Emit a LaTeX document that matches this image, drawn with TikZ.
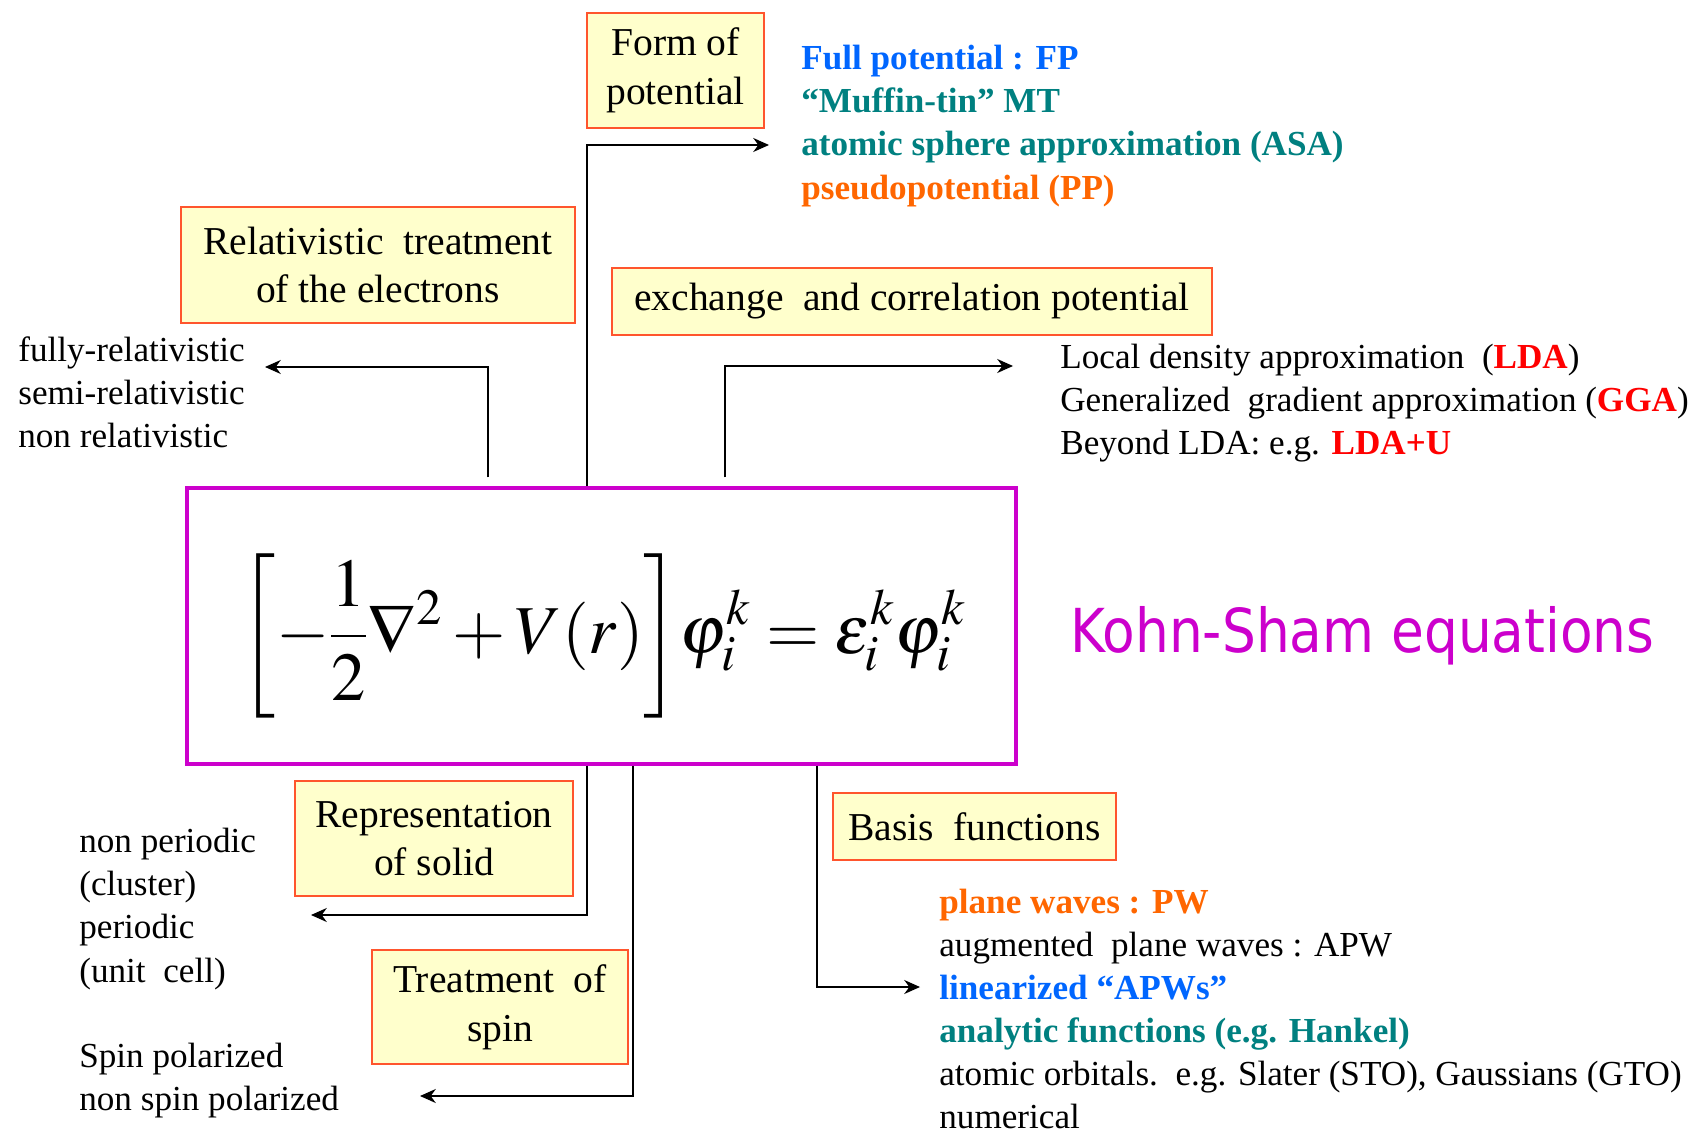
\documentclass[tikz,border=0pt]{standalone}
\usepackage{mathptmx}
\usepackage{fontspec}
\setmainfont{Liberation Serif}
\newfontfamily\ksfont[FakeStretch=0.88]{DejaVu Sans}
\usetikzlibrary{arrows.meta}
\definecolor{fpblue}{RGB}{0,102,255}
\definecolor{mtteal}{RGB}{0,128,128}
\definecolor{pporange}{RGB}{255,102,0}
\definecolor{ldared}{RGB}{255,0,0}
\definecolor{ksmagenta}{RGB}{204,0,204}
\definecolor{boxfill}{RGB}{255,255,204}
\definecolor{boxedge}{RGB}{255,85,45}
\tikzset{
  topic/.style={rectangle, fill=boxfill, draw=boxedge, line width=1.1pt, align=center, inner sep=0pt, font=\fontsize{22.5}{27.7}\selectfont},
  choices/.style={anchor=west, align=left, inner sep=0pt, font=\fontsize{20}{24.5}\selectfont},
  feed/.style={-{Stealth[length=9pt,width=8pt]}, line width=0.8pt}
}

\begin{document}
\begin{tikzpicture}[x=0.02cm, y=-0.02cm]
      \useasboundingbox (0,0) rectangle (1696,1131);

      % central equation
      \node[draw=ksmagenta, line width=2pt, minimum width=16.58cm, minimum height=5.52cm] (ks) at (601.5,626) {};
      \node (eq) at (603,636) {\fontsize{39}{44}\selectfont
        $\displaystyle\left[-\frac{1}{2}\nabla^{2}+V(r)\right]\!\varphi_i^{k}=\varepsilon_i^{k}\varphi_i^{k}$};
      \node[anchor=west, text=ksmagenta, font=\ksfont\fontsize{34.5}{40}\selectfont] (kstitle) at (1064,636) {Kohn-Sham equations};

      % topic boxes
      \node[topic, minimum width=3.54cm, minimum height=2.3cm] (form) at (675.5,70.5) {Form of\\potential};
      \node[topic, minimum width=7.88cm, minimum height=2.32cm] (rel) at (378,265) {Relativistic\ \ treatment\\of the electrons};
      \node[topic, minimum width=12cm, minimum height=1.34cm] (xc) at (912,301.5) {exchange\ \ and correlation potential};
      \node[topic, minimum width=5.56cm, minimum height=2.3cm] (rep) at (434,838.5) {Representation\\of solid};
      \node[topic, minimum width=5.66cm, minimum height=1.34cm] (basis) at (974.5,826.5) {Basis\ \ functions};
      \node[topic, minimum width=5.12cm, minimum height=2.28cm] (spin) at (500,1007) {Treatment\ \ of\\spin};

      % lists of choices
      \node[choices] (formlist) at (801,126) {%
        {\bfseries\color{fpblue}Full potential : FP}\\
        {\bfseries\color{mtteal}“Muffin-tin” MT}\\
        {\bfseries\color{mtteal}atomic sphere approximation (ASA)}\\
        {\bfseries\color{pporange}pseudopotential (PP)}};
      \node[choices] (rellist) at (18,392) {fully-relativistic\\semi-relativistic\\non relativistic};
      \node[choices] (xclist) at (1060,403) {%
        Local density approximation\ \ ({\bfseries\color{ldared}LDA})\\
        Generalized\ \ gradient approximation ({\bfseries\color{ldared}GGA})\\
        Beyond LDA: e.g. {\bfseries\color{ldared}LDA+U}};
      \node[choices] (replist) at (79,909) {non periodic\\(cluster)\\periodic\\(unit\ \ cell)};
      \node[choices] (spinlist) at (79,1081) {Spin polarized\\non spin polarized};
      \node[choices] (basislist) at (939,1009) {%
        {\bfseries\color{pporange}plane waves : PW}\\
        augmented\ \ plane waves : APW\\
        {\bfseries\color{fpblue}linearized “APWs”}\\
        {\bfseries\color{mtteal}analytic functions (e.g. Hankel)}\\
        atomic orbitals.\ \ e.g. Slater (STO), Gaussians (GTO)\\
        numerical};

      % bends and arrow ends
      \coordinate (relBend) at (488,367);
      \coordinate (relEnd) at (265,367);
      \coordinate (formBend) at (587,145);
      \coordinate (formEnd) at (769,145);
      \coordinate (xcBend) at (725,366);
      \coordinate (xcEnd) at (1013,366);
      \coordinate (repBend) at (587,915);
      \coordinate (repEnd) at (311,915);
      \coordinate (spinBend) at (633,1096);
      \coordinate (spinEnd) at (420,1096);
      \coordinate (basisBend) at (817,987);
      \coordinate (basisEnd) at (920,987);

      % connectors
      \draw[feed, shorten <=5pt] (ks.north -| relBend) -- (relBend) -- (relEnd);
      \draw[feed] (ks.north -| formBend) -- (formBend) -- (formEnd);
      \draw[feed, shorten <=5pt] (ks.north -| xcBend) -- (xcBend) -- (xcEnd);
      \draw[feed] (ks.south -| repBend) -- (repBend) -- (repEnd);
      \draw[feed] (ks.south -| spinBend) -- (spinBend) -- (spinEnd);
      \draw[feed] (ks.south -| basisBend) -- (basisBend) -- (basisEnd);
\end{tikzpicture}
\end{document}
